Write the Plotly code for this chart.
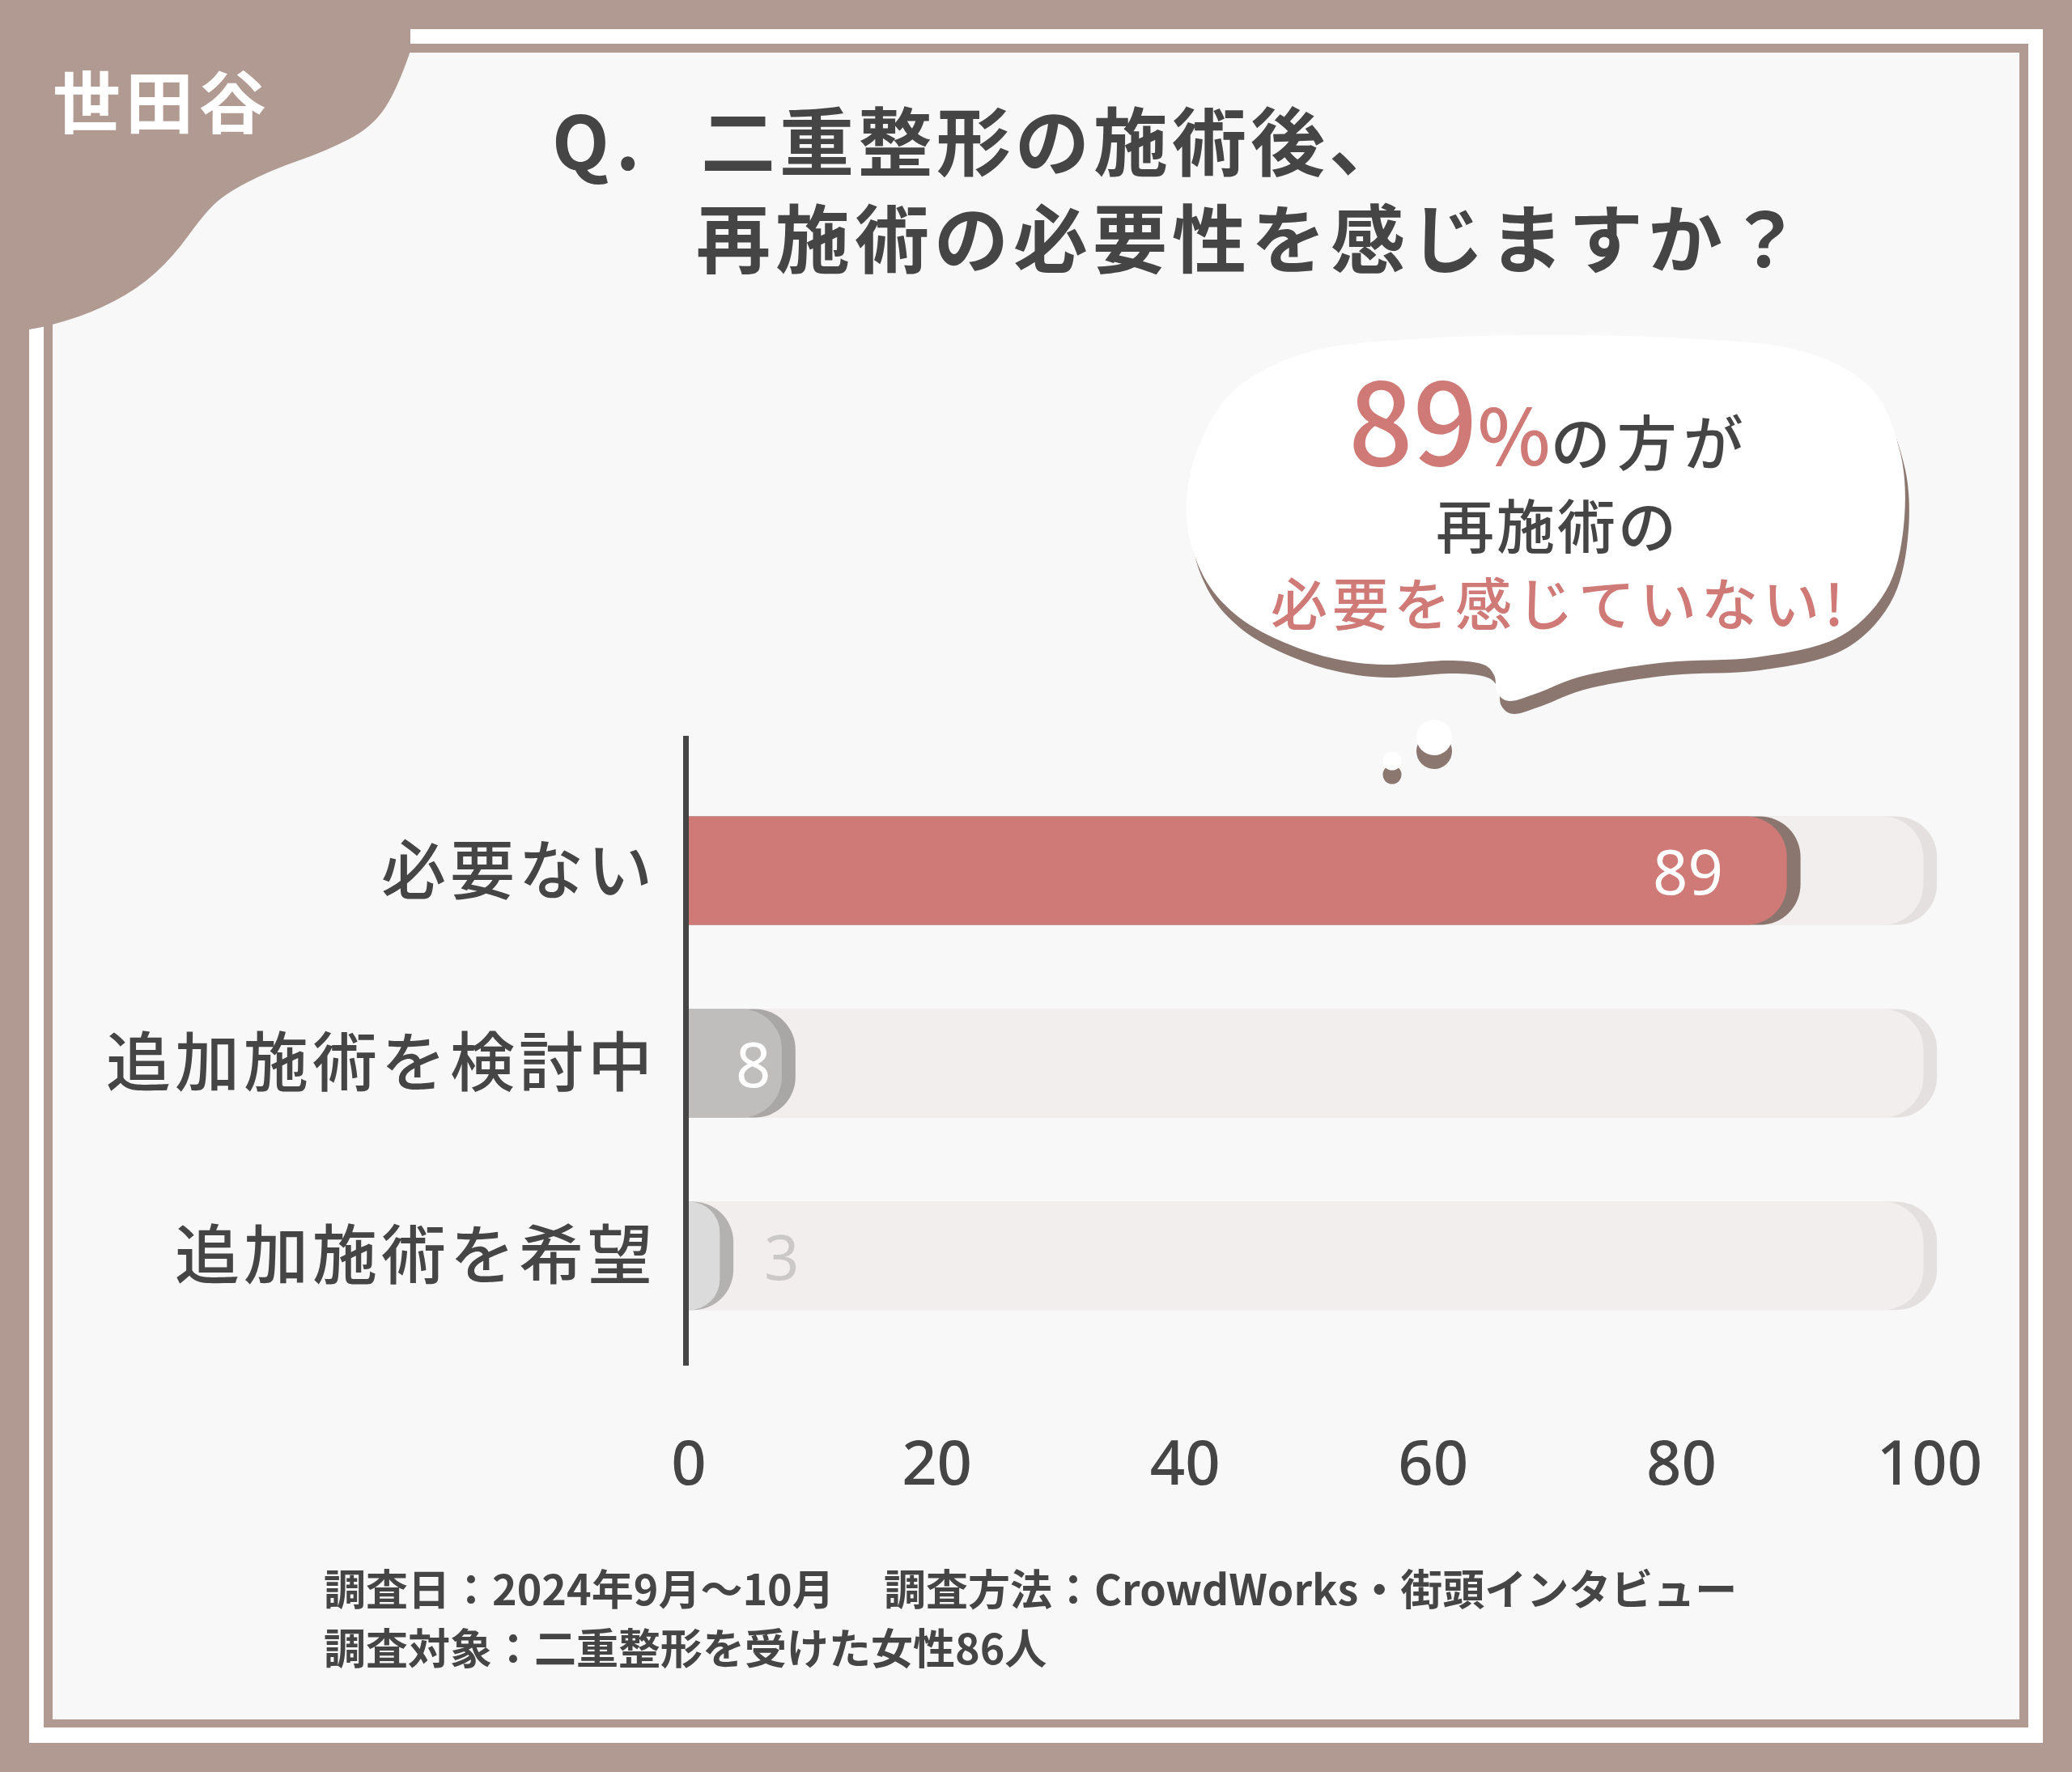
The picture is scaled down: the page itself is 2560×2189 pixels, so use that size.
import plotly.graph_objects as go

# ---------------- data ----------------
categories = ["必要ない", "追加施術を検討中", "追加施術を希望"]
values = [89, 8, 3]
scale_max = 100
x_tickvals = [0, 20, 40, 60, 80, 100]
x_ticktext = ["0", "20", "40", "60", "80", "100"]

badge_text = "世田谷"
title_q = "Q."
title_line1 = "二重整形の施術後、"
title_line2 = "再施術の必要性を感じますか？"
bubble_pct = "89"
bubble_line1_rest = "の方が"
bubble_line2 = "再施術の"
bubble_line3 = "必要を感じていない!"
footer_date = "調査日：2024年9月〜10月"
footer_method = "調査方法：CrowdWorks・街頭インタビュー"
footer_target = "調査対象：二重整形を受けた女性86人"

# ---------------- styles ----------------
W, H = 2560, 2189
BROWN = "#b09a91"
PANEL = "#f8f8f8"
TEXT = "#454545"
RED = "#cf7a76"
SHADOW = "#8b7770"
CJK = "Noto Sans CJK JP"
LAT = "Noto Sans"

bar_colors = [RED, "#c0bebd", "#dcdbdb"]
rim_colors = ["#8a766f", "#a9a7a6", "#b4b2b1"]
track_color = "#f1eeed"
track_rim = "#e3e0df"
label_colors = ["#ffffff", "#ffffff", "#cbc9c8"]
label_anchor = ["right", "right", "left"]
label_shift = [-84, -20, 45]
RIM = 0.6      # rim extends beyond bar end (axis units)
CUT = 0.5      # main face ends slightly before value
RADIUS = 50
BAR_W = 0.563


def px(x):
    return x / W


def py(y):
    return 1 - y / H


def spaced(text, ls):
    return f"<span style='letter-spacing:{ls}px'>{text}</span>"


def smooth_path(pts, dx=0, dy=0):
    n = len(pts)
    P = [(x + dx, y + dy) for x, y in pts]
    d = f"M {px(P[0][0]):.5f},{py(P[0][1]):.5f}"
    for i in range(n):
        p0 = P[(i - 1) % n]
        p1 = P[i]
        p2 = P[(i + 1) % n]
        p3 = P[(i + 2) % n]
        c1 = (p1[0] + (p2[0] - p0[0]) / 6, p1[1] + (p2[1] - p0[1]) / 6)
        c2 = (p2[0] - (p3[0] - p1[0]) / 6, p2[1] - (p3[1] - p1[1]) / 6)
        d += (f" C {px(c1[0]):.5f},{py(c1[1]):.5f} {px(c2[0]):.5f},{py(c2[1]):.5f}"
              f" {px(p2[0]):.5f},{py(p2[1]):.5f}")
    return d + " Z"


def rect(x0, y0, x1, y1, color):
    return dict(type="rect", xref="paper", yref="paper", x0=px(x0), x1=px(x1),
                y0=py(y1), y1=py(y0), fillcolor=color, line=dict(width=0), layer="below")


def circle(cx, cy, r, color):
    return dict(type="circle", xref="paper", yref="paper", x0=px(cx - r), x1=px(cx + r),
                y0=py(cy + r), y1=py(cy - r), fillcolor=color, line=dict(width=0), layer="below")


def ann(text, x, y, size, color=TEXT, family=CJK, xanchor="left", yanchor="middle",
        weight=400, align="left"):
    return dict(text=text, x=px(x), y=py(y), xref="paper", yref="paper", showarrow=False,
                xanchor=xanchor, yanchor=yanchor, align=align,
                font=dict(size=size, color=color, family=family, weight=weight))


shapes = [
    rect(36, 36, 2524, 2153, "#ffffff"),
    rect(54, 54, 2506, 2134, BROWN),
    rect(65, 65, 2495, 2124, PANEL),
]

# top-left brown blob
blob_curve = [(507, 63), (491, 110), (460, 157), (402, 187), (335, 210), (277, 240),
              (250, 267), (214, 317), (170, 357), (112, 387), (58, 403), (36, 407)]
d = f"M {px(0)},{py(0)} L {px(507)},{py(0)} L {px(507)},{py(63)}"
for i in range(1, len(blob_curve) - 1):
    p1 = blob_curve[i]
    p2 = blob_curve[i + 1]
    d += f" Q {px(p1[0])},{py(p1[1])} {px((p1[0] + p2[0]) / 2)},{py((p1[1] + p2[1]) / 2)}"
d += f" L {px(36)},{py(407)} L {px(0)},{py(412)} Z"
shapes.append(dict(type="path", path=d, xref="paper", yref="paper", fillcolor=BROWN,
                   line=dict(width=0), layer="below"))

# speech bubble
bubble = [(1466, 640), (1478, 560), (1525, 482), (1620, 434), (1760, 418), (1920, 414),
          (2080, 418), (2220, 432), (2310, 478), (2348, 560), (2352, 650), (2330, 730),
          (2270, 788), (2170, 812), (2060, 818), (1960, 834), (1900, 856), (1866, 866),
          (1850, 856), (1846, 834), (1830, 820), (1785, 816), (1710, 821), (1650, 814),
          (1590, 795), (1530, 762), (1487, 712)]
shapes.append(dict(type="path", path=smooth_path(bubble, 5, 16), xref="paper", yref="paper",
                   fillcolor=SHADOW, line=dict(width=0), layer="below"))
shapes.append(dict(type="path", path=smooth_path(bubble), xref="paper", yref="paper",
                   fillcolor="#ffffff", line=dict(width=0), layer="below"))
shapes += [circle(1772, 928, 22, SHADOW), circle(1772, 911, 22, "#ffffff"),
           circle(1720, 957, 11.5, SHADOW), circle(1720, 940, 11.5, "#ffffff")]

fig = go.Figure()


def add_bars(xs, colors, yref):
    for c, x, col in zip(categories, xs, colors):
        fig.add_trace(go.Bar(y=[c], x=[x], orientation="h", width=BAR_W, yaxis=yref,
                             marker=dict(color=col, cornerradius=RADIUS, line=dict(width=0)),
                             hoverinfo="skip", showlegend=False))


# each layer on its own overlaid axis so every bar end gets its rounded corner
add_bars([scale_max + RIM] * 3, [track_rim] * 3, "y")
add_bars([scale_max - CUT] * 3, [track_color] * 3, "y2")
add_bars([v + RIM for v in values], rim_colors, "y3")
add_bars([v - CUT for v in values], bar_colors, "y4")

annotations = []
for c, v, col, anc, sh in zip(categories, values, label_colors, label_anchor, label_shift):
    annotations.append(dict(text=str(v), x=v, y=c, xref="x", yref="y", showarrow=False,
                            xanchor=anc, xshift=sh, yanchor="middle",
                            font=dict(size=76, color=col, family=LAT)))

bubble_line1 = (
    f"<span style='font-size:140px;color:{RED};font-weight:500'>{bubble_pct}</span>"
    f"<span style='font-size:96px;color:{RED};font-weight:500'>%</span>"
    + spaced(bubble_line1_rest, 8)
)

annotations += [
    ann(spaced(badge_text, 6), 200, 122, 84, "#ffffff", xanchor="center", weight=700),
    ann("<b>" + spaced(title_q, 8) + "</b>", 680, 170, 92),
    ann("<b>" + spaced(title_line1, 5) + "</b>", 864, 170, 92),
    ann("<b>" + spaced(title_line2, 6) + "</b>", 858, 289, 92),
    ann(bubble_line1, 1914, 514, 74, xanchor="center", weight=500),
    ann(spaced(bubble_line2, 3), 1924, 646, 72, xanchor="center", weight=500),
    ann(spaced(bubble_line3, 6), 1927, 742, 70, RED, xanchor="center", weight=500),
    ann("<b>" + footer_date + "</b>", 398, 1960, 52),
    ann("<b>" + footer_method + "</b>", 1090, 1960, 52),
    ann("<b>" + footer_target + "</b>", 398, 2033, 52),
]

x0_px, unit = 851, 15.33
x_max = 102
ydom = [py(1687), py(909)]
yrange = [2.57, -0.70]
hidden_y = dict(domain=ydom, type="category", categoryorder="array", categoryarray=categories,
                range=yrange, overlaying="y", visible=False, showgrid=False, zeroline=False,
                automargin=False)

fig.update_layout(
    width=W, height=H, autosize=False,
    margin=dict(l=0, r=0, t=0, b=0, pad=0, autoexpand=False),
    paper_bgcolor=BROWN, plot_bgcolor="rgba(0,0,0,0)",
    barmode="overlay", shapes=shapes, annotations=annotations,
    xaxis=dict(domain=[px(x0_px), px(x0_px + x_max * unit)], range=[0, x_max],
               tickvals=x_tickvals, ticktext=x_ticktext, showgrid=False, zeroline=False,
               showline=False, ticks="", ticklabelstandoff=70, automargin=False,
               tickfont=dict(size=76, color=TEXT, family=LAT, weight=500)),
    yaxis=dict(domain=ydom, type="category", categoryorder="array",
               categoryarray=categories, range=yrange, showgrid=False, zeroline=False,
               showline=True, linewidth=7, linecolor=TEXT, ticks="", ticklabelstandoff=17,
               automargin=False, tickvals=categories,
               ticktext=[spaced(c, 5) for c in categories],
               tickfont=dict(size=80, color=TEXT, family=CJK, weight=500)),
    yaxis2=hidden_y, yaxis3=hidden_y, yaxis4=hidden_y,
    font=dict(family=CJK, color=TEXT),
)

fig.write_html("out.html", config={"displayModeBar": False},
               post_script="document.body.style.margin='0';document.body.style.overflow='hidden';")
